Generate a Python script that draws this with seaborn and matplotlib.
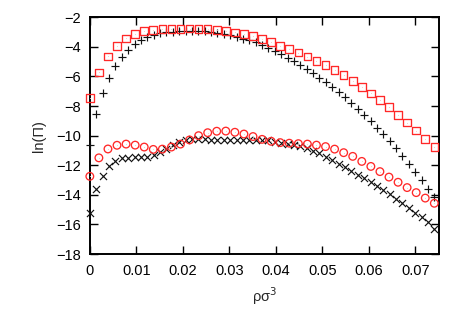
import matplotlib
matplotlib.use("Agg")
import matplotlib.pyplot as plt
import seaborn as sns
import pandas as pd

# ---- data ----
rho_red = [0, 0.00195, 0.0039, 0.00585, 0.0078, 0.00975, 0.0117, 0.01365, 0.0156,
           0.01755, 0.0195, 0.02145, 0.0234, 0.02535, 0.0273, 0.02925, 0.0312,
           0.03315, 0.0351, 0.03705, 0.039, 0.04095, 0.0429, 0.04485, 0.0468,
           0.04875, 0.0507, 0.05265, 0.0546, 0.05655, 0.0585, 0.06045, 0.0624,
           0.06435, 0.0663, 0.06825, 0.0702, 0.07215, 0.0741]

squares = [-7.45, -5.72, -4.64, -3.92, -3.42, -3.13, -2.92, -2.84, -2.78, -2.77,
           -2.77, -2.76, -2.78, -2.80, -2.85, -2.93, -3.02, -3.13, -3.25, -3.46,
           -3.67, -3.92, -4.16, -4.39, -4.66, -4.94, -5.22, -5.56, -5.90, -6.30,
           -6.73, -7.14, -7.59, -8.08, -8.60, -9.12, -9.66, -10.22, -10.78]

circles = [-12.75, -11.50, -10.90, -10.65, -10.57, -10.64, -10.77, -10.93, -10.91,
           -10.77, -10.57, -10.29, -10.00, -9.80, -9.70, -9.69, -9.77, -9.89,
           -10.06, -10.25, -10.38, -10.47, -10.51, -10.54, -10.57, -10.64, -10.74,
           -10.91, -11.15, -11.40, -11.74, -12.08, -12.43, -12.80, -13.15, -13.51,
           -13.85, -14.22, -14.57]

rho_black = [0, 0.00137, 0.00274, 0.00412, 0.00549, 0.00686, 0.00823, 0.00961,
             0.01098, 0.01235, 0.01372, 0.01509, 0.01647, 0.01784, 0.01921,
             0.02058, 0.02196, 0.02333, 0.0247, 0.02607, 0.02744, 0.02882,
             0.03019, 0.03156, 0.03293, 0.03431, 0.03568, 0.03705, 0.03842,
             0.03979, 0.04117, 0.04254, 0.04391, 0.04528, 0.04666, 0.04803,
             0.0494, 0.05077, 0.05214, 0.05352, 0.05489, 0.05626, 0.05763,
             0.05901, 0.06038, 0.06175, 0.06312, 0.06449, 0.06587, 0.06724,
             0.06861, 0.06998, 0.07136, 0.07273, 0.0741]

pluses = [-10.6, -8.53, -7.09, -6.07, -5.30, -4.67, -4.20, -3.83, -3.54, -3.36,
          -3.20, -3.08, -3.01, -2.97, -2.93, -2.93, -2.93, -2.93, -2.95, -2.97,
          -3.04, -3.13, -3.22, -3.33, -3.44, -3.55, -3.68, -3.87, -4.10, -4.30,
          -4.50, -4.73, -4.95, -5.22, -5.49, -5.78, -6.08, -6.37, -6.69, -7.03,
          -7.41, -7.81, -8.20, -8.60, -9.04, -9.47, -9.91, -10.38, -10.84,
          -11.35, -11.90, -12.45, -13.00, -13.58, -14.12]

crosses = [-15.24, -13.62, -12.70, -12.06, -11.73, -11.53, -11.48, -11.46, -11.46,
           -11.46, -11.32, -11.10, -10.87, -10.64, -10.43, -10.27, -10.20, -10.20,
           -10.22, -10.26, -10.28, -10.31, -10.32, -10.32, -10.30, -10.28, -10.26,
           -10.27, -10.32, -10.40, -10.48, -10.56, -10.64, -10.72, -10.86, -11.02,
           -11.20, -11.44, -11.67, -11.90, -12.13, -12.37, -12.63, -12.88, -13.14,
           -13.40, -13.67, -13.96, -14.27, -14.57, -14.90, -15.20, -15.50, -15.85,
           -16.30]

x_ticks = [0, 0.01, 0.02, 0.03, 0.04, 0.05, 0.06, 0.07]
x_ticklabels = ["0", "0.01", "0.02", "0.03", "0.04", "0.05", "0.06", "0.07"]
y_ticks = [-18, -16, -14, -12, -10, -8, -6, -4, -2]

sns.set_theme(style="ticks")
plt.rcParams['font.family'] = ['Liberation Sans', 'DejaVu Sans']
plt.rcParams['axes.unicode_minus'] = True

red_df = pd.DataFrame({"rho": rho_red, "sq": squares, "ci": circles})
blk_df = pd.DataFrame({"rho": rho_black, "pl": pluses, "cr": crosses})

fig = plt.figure(figsize=(4.63, 3.23), dpi=100)
ax = fig.add_axes([0.194, 0.2136, 0.7531, 0.7328])

red = "#ff2828"
common = dict(ax=ax, legend=False, clip_on=False, zorder=3)
sns.scatterplot(data=blk_df, x="rho", y="pl", marker="+", s=32, color="#111111",
                linewidth=0.85, **common)
sns.scatterplot(data=blk_df, x="rho", y="cr", marker="x", s=26, color="#111111",
                linewidth=0.85, **common)
sns.scatterplot(data=red_df, x="rho", y="sq", marker="s", s=30, facecolor="none",
                edgecolor=red, linewidth=0.95, **common)
sns.scatterplot(data=red_df, x="rho", y="ci", marker="o", s=30, facecolor="none",
                edgecolor=red, linewidth=0.95, **common)
# small centre dots as in the reference
sns.scatterplot(data=red_df, x="rho", y="sq", marker=".", s=1.5, color=red,
                linewidth=0, **common)
sns.scatterplot(data=red_df, x="rho", y="ci", marker=".", s=1.5, color=red,
                linewidth=0, **common)

ax.set_xlim(0, 0.075)
ax.set_ylim(-18, -2)
ax.set_xticks(x_ticks)
ax.set_xticklabels(x_ticklabels)
ax.set_yticks(y_ticks)

for s in ax.spines.values():
    s.set_visible(True)
    s.set_linewidth(1.4)
    s.set_color("black")

ax.tick_params(direction="in", length=5.5, width=1.0, top=True, right=True,
               labelsize=10.5, colors="black")
ax.tick_params(axis="x", pad=7.5)
ax.tick_params(axis="y", pad=6.5)

ax.set_xlabel("ρσ$^3$", fontsize=10.5, labelpad=5)
ax.set_ylabel("ln(Π)", fontsize=10.5, labelpad=7)

fig.savefig("out.png", dpi=100)
